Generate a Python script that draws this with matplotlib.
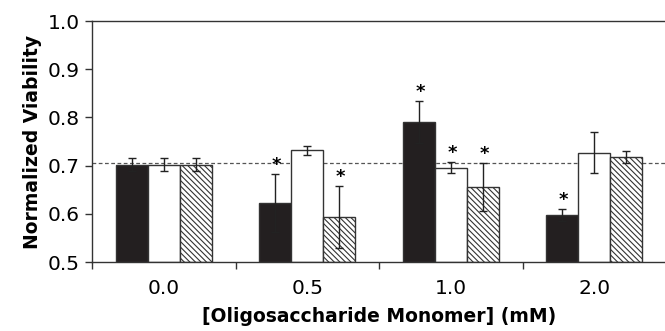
import matplotlib
matplotlib.use("Agg")
import matplotlib.pyplot as plt
import numpy as np

# concentrations (mM) and three treatment series
categories = ["0.0", "0.5", "1.0", "2.0"]
series_a = [0.702, 0.622, 0.791, 0.597]
series_a_err = [0.013, 0.060, 0.044, 0.012]
series_b = [0.702, 0.732, 0.696, 0.727]
series_b_err = [0.013, 0.009, 0.012, 0.042]
series_c = [0.702, 0.594, 0.656, 0.718]
series_c_err = [0.013, 0.064, 0.050, 0.012]
# significance marks per series
sig_a = [False, True, True, True]
sig_b = [False, False, True, False]
sig_c = [False, True, True, False]
reference_level = 0.705

plt.rcParams["font.family"] = ["DejaVu Sans"]
plt.rcParams["hatch.linewidth"] = 0.8
plt.rcParams["hatch.color"] = "#222222"

fig = plt.figure(figsize=(6.65, 3.31), dpi=100)
ax = fig.add_axes([92 / 665, 1 - 262 / 331, 574 / 665, 241 / 331])

x = np.arange(len(categories))
w = 0.223
edge = "#333333"
styles = [
    (series_a, series_a_err, sig_a, -w, dict(color="#231f20", edgecolor=edge)),
    (series_b, series_b_err, sig_b, 0.0, dict(color="white", edgecolor=edge)),
    (series_c, series_c_err, sig_c, w, dict(color="white", edgecolor=edge, hatch="\\\\\\\\\\\\")),
]

ax.axhline(reference_level, color="#555555", linestyle=(0, (3, 2)), linewidth=0.9, zorder=1)

for vals, errs, sigs, off, kw in styles:
    ax.bar(x + off, np.array(vals) - 0.5, width=w, bottom=0.5, linewidth=1.0, zorder=2, **kw)
    ax.errorbar(x + off, vals, yerr=errs, fmt="none", ecolor="#222222", elinewidth=1.0,
                capsize=3, capthick=1.0, zorder=3)
    for xi, v, e, s in zip(x + off, vals, errs, sigs):
        if s:
            ax.annotate("*", (xi, v + e), xytext=(1, 0), textcoords="offset points",
                        ha="center", va="bottom", fontsize=13, fontweight="bold")

ax.set_ylim(0.5, 1.0)
ax.set_xlim(-0.5, len(categories) - 0.5)
ax.set_yticks(np.arange(0.5, 1.01, 0.1))
ax.set_yticklabels([f"{v:.1f}" for v in np.arange(0.5, 1.01, 0.1)])
ax.set_xticks(x)
ax.set_xticklabels(categories)
ax.set_xticks(np.arange(-0.5, len(categories), 1.0), minor=True)
ax.tick_params(axis="x", which="major", length=0, labelsize=14.5, pad=12)
ax.tick_params(axis="x", which="minor", length=5, width=1.0, color=edge, direction="out")
ax.tick_params(axis="y", length=5, width=1.0, color=edge, labelsize=14.5, pad=4)

for side in ["left", "bottom", "top"]:
    ax.spines[side].set_color(edge)
    ax.spines[side].set_linewidth(1.0)
ax.spines["right"].set_visible(False)

ax.set_ylabel("Normalized Viability", fontsize=13.5, fontweight="bold", labelpad=4)
ax.set_xlabel("[Oligosaccharide Monomer] (mM)", fontsize=13.5, fontweight="bold", labelpad=7)

fig.savefig("out.png", dpi=100)
